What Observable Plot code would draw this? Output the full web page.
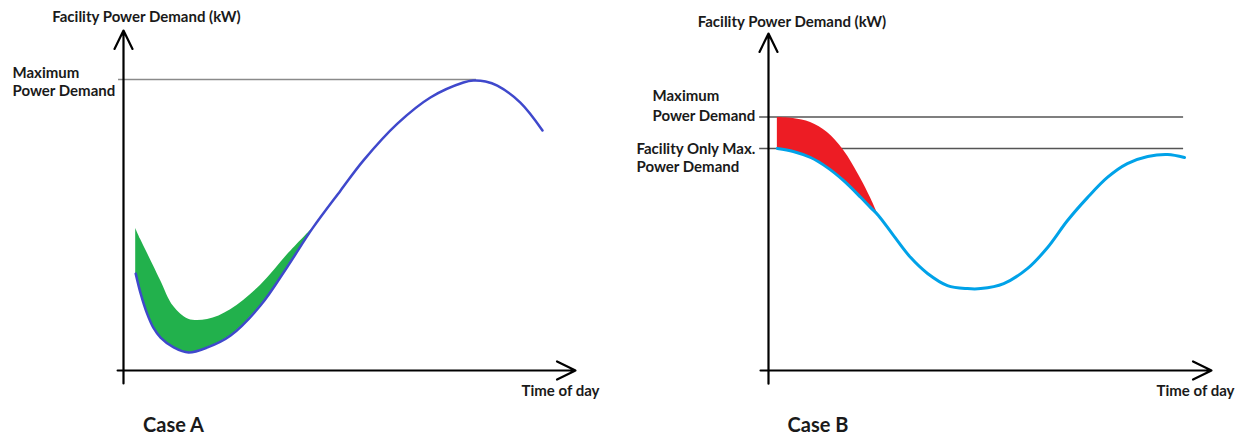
<!DOCTYPE html>
<html><head><meta charset="utf-8">
<script src="https://cdn.jsdelivr.net/npm/d3@7"></script>
<script src="https://cdn.jsdelivr.net/npm/@observablehq/plot@0.6"></script>
<style>
html,body{margin:0;padding:0;background:#fff;}
#wrap{display:flex;width:1244px;height:437px;overflow:hidden;}
</style></head><body><div id="wrap"></div>
<script>
// ---- text ----
const caseLabels = ["Case A", "Case B"];
const yTitle = "Facility Power Demand (kW)";
const xTitle = "Time of day";
const maxLabel = "Maximum\nPower Demand";
const facilityLabel = "Facility Only Max.\nPower Demand";

// ---- Case A (time in % of axis span, demand in % of axis) ----
const timeA = [2.7, 3.8, 5.2, 6.6, 8.2, 11.1, 14.4, 18.6, 23.7, 30.3, 36.3, 41.8, 48.0, 53.1, 60.6, 67.9, 75.2, 77.4, 80.1, 82.7, 87.8, 92.7];
const demandA = [28.5, 22.6, 16.8, 12.6, 9.7, 6.8, 5.3, 6.8, 10.3, 19.1, 30.6, 41.8, 52.9, 61.8, 72.6, 80.3, 84.7, 85.3, 85.0, 83.8, 78.8, 70.6];
const addedLoadTopA = [41.8, 38.5, 34.7, 30.9, 26.5, 18.8, 15.1, 15.0, 17.9, 25.0, 34.1, 41.8];
const maxDemandA = 85.6;

// ---- Case B ----
const timeB = [2.0, 5.6, 9.5, 13.3, 16.9, 20.8, 23.0, 24.8, 28.2, 32.1, 35.9, 40.4, 44.9, 47.9, 53.1, 58.5, 63.0, 67.5, 72.0, 76.5, 81.0, 85.6, 90.1, 93.9];
const demandB = [65.9, 65.0, 63.2, 60.2, 56.4, 51.4, 48.4, 46.0, 40.1, 33.5, 28.8, 25.2, 24.3, 24.3, 25.8, 30.3, 36.5, 44.5, 51.3, 57.3, 61.4, 63.5, 64.1, 63.2];
const addedLoadTopB = [75.1, 74.8, 73.6, 70.6, 65.4, 57.0, 51.3, 46.0];
const maxDemandB = 75.2;
const facilityMaxB = 65.9;

const textStyle = {fontSize: 15, fontWeight: "bold", fill: "#1a1a1a"};

function axes(xStart, yStart) {
  return [
    Plot.arrow([0], {x1: 0, y1: yStart, x2: 0, y2: 100, stroke: "#000", strokeWidth: 2.2, headLength: 14, headAngle: 52}),
    Plot.arrow([0], {x1: xStart, y1: 0, x2: 100, y2: 0, stroke: "#000", strokeWidth: 2.2, headLength: 14, headAngle: 52})
  ];
}

function panelA() {
  const idx = d3.range(addedLoadTopA.length);
  return Plot.plot({
    width: 622, height: 437,
    marginLeft: 123, marginRight: 47, marginTop: 30, marginBottom: 67,
    x: {domain: [0, 100], axis: null},
    y: {domain: [0, 100], axis: null},
    style: {fontFamily: "Lato, sans-serif", background: "#fff", overflow: "visible"},
    marks: [
      Plot.ruleY([maxDemandA], {x1: -1.1, x2: 78.1, stroke: "#8a8a8a", strokeWidth: 1.6}),
      Plot.areaY(idx, {x: i => timeA[i], y1: i => demandA[i], y2: i => addedLoadTopA[i], fill: "#22b14c", curve: "catmull-rom"}),
      Plot.line(timeA.map((t, i) => ({t, v: demandA[i]})), {x: "t", y: "v", stroke: "#3f48cc", strokeWidth: 2.5, curve: "catmull-rom"}),
      ...axes(-1.3, -3.8),
      Plot.text([yTitle], {x: 0, y: 100, dx: 23, dy: -13, textAnchor: "middle", ...textStyle}),
      Plot.text([maxLabel], {x: 0, y: maxDemandA, dx: -111, dy: 2, textAnchor: "start", lineAnchor: "middle", lineHeight: 1.2, ...textStyle}),
      Plot.text([xTitle], {x: 100, y: 0, dx: -15, dy: 21, textAnchor: "middle", ...textStyle}),
      Plot.text([caseLabels[0]], {x: 0, y: 0, dx: 50, dy: 55, textAnchor: "middle", ...textStyle, fontSize: 20})
    ]
  });
}

function panelB() {
  const idx = d3.range(addedLoadTopB.length);
  return Plot.plot({
    width: 622, height: 437,
    marginLeft: 146, marginRight: 33, marginTop: 33, marginBottom: 67,
    x: {domain: [0, 100], axis: null},
    y: {domain: [0, 100], axis: null},
    style: {fontFamily: "Lato, sans-serif", background: "#fff", overflow: "visible"},
    marks: [
      Plot.ruleY([maxDemandB, facilityMaxB], {x1: -2.0, x2: 93.7, stroke: "#555", strokeWidth: 1.5}),
      Plot.areaY(idx, {x: i => timeB[i], y1: i => demandB[i], y2: i => addedLoadTopB[i], fill: "#ed1c24", curve: "catmull-rom"}),
      Plot.line(timeB.map((t, i) => ({t, v: demandB[i]})), {x: "t", y: "v", stroke: "#00a2e8", strokeWidth: 3, curve: "catmull-rom"}),
      ...axes(-1.8, -3.9),
      Plot.text([yTitle], {x: 0, y: 100, dx: 23.5, dy: -11, textAnchor: "middle", ...textStyle}),
      Plot.text([maxLabel], {x: 0, y: maxDemandB, dx: -116, dy: -12, textAnchor: "start", lineAnchor: "middle", lineHeight: 1.33, ...textStyle}),
      Plot.text([facilityLabel], {x: 0, y: facilityMaxB, dx: -132, dy: 9, textAnchor: "start", lineAnchor: "middle", lineHeight: 1.22, ...textStyle}),
      Plot.text([xTitle], {x: 100, y: 0, dx: -16, dy: 21, textAnchor: "middle", ...textStyle}),
      Plot.text([caseLabels[1]], {x: 0, y: 0, dx: 49.5, dy: 55, textAnchor: "middle", ...textStyle, fontSize: 20})
    ]
  });
}

const wrap = document.getElementById("wrap");
wrap.appendChild(panelA());
wrap.appendChild(panelB());
</script></body></html>
